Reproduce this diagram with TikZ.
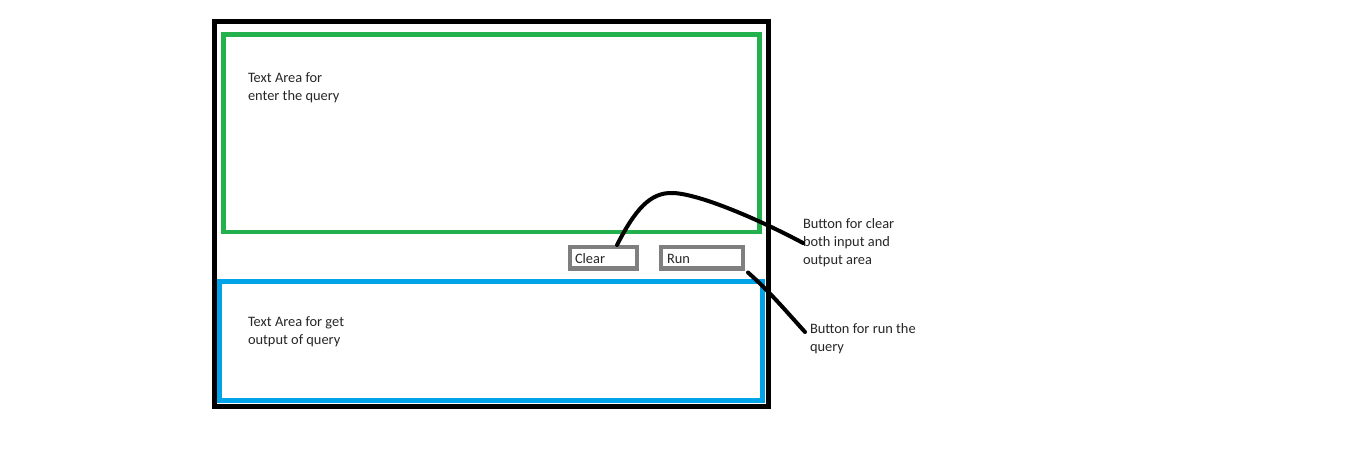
\documentclass[tikz,border=0pt]{standalone}
\usepackage{fontspec}
\setmainfont{Carlito}
\usetikzlibrary{calc}
\definecolor{pgreen}{HTML}{22B14C}
\definecolor{pblue}{HTML}{00A2E8}
\definecolor{pgray}{HTML}{7F7F7F}
\definecolor{ptext}{HTML}{262626}
\tikzset{
  frame/.style={draw, inner sep=0pt, outer sep=0pt},
  lbl/.style={anchor=base west, inner sep=0pt, outer sep=0pt, align=left, text=ptext,
    font=\fontsize{14.4}{18}\selectfont},
  btn/.style={frame, draw=pgray, line width=4.5pt, minimum height=21.5pt},
  wire/.style={draw=black, line width=4pt, line cap=round}
}
\begin{document}
\begin{tikzpicture}[x=1pt,y=-1pt]
\useasboundingbox (0,0) rectangle (1368,465);
\node[frame, line width=5pt, minimum width=554pt, minimum height=384pt] (outer) at (491.5,214) {};
\node[frame, draw=pgreen, line width=4.5pt, minimum width=536pt, minimum height=197.5pt] (input) at (491.5,133.25) {};
\node[frame, draw=pblue, line width=4.5pt, minimum width=543pt, minimum height=119pt] (output) at (491,341) {};
\node[btn, minimum width=67pt] (clear) at (603.5,257.75) {};
\node[btn, minimum width=82pt] (run) at (702,257.75) {};
\node[lbl] (clearlbl) at (575,263) {Clear};
\node[lbl] (runlbl) at (667,263) {Run};
\node[lbl] (intxt) at (248,100.7) {Text Area for\\enter the query};
\node[lbl] (outtxt) at (248,344) {Text Area for get\\output of query};
\node[lbl] (cleartxt) at (803,264.7) {Button for clear\\both input and\\output area};
\node[lbl] (runtxt) at (810,351.7) {Button for run the\\query};
\coordinate (cstart) at ([xshift=13.5pt,yshift=2pt]clear.north);
\coordinate (cend) at (803,243);
\coordinate (cpeak) at (673,193);
\coordinate (rstart) at ([xshift=5pt,yshift=-4pt]run.south east);
\coordinate (rend) at (805,332);
\draw[wire] (cstart) .. controls (635,210) and (650,192) .. (cpeak) .. controls (700,194) and (760,220) .. (cend);
\draw[wire] (rstart) .. controls (770,292) and (785,310) .. (rend);
\end{tikzpicture}
\end{document}
